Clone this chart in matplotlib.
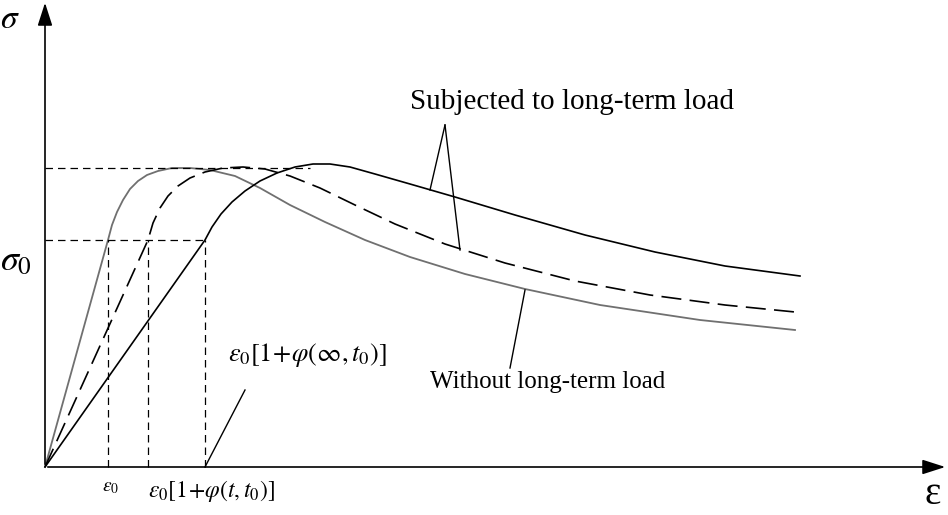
import matplotlib.pyplot as plt

# schematic coordinates (pixel-like units, origin at the axes corner)
x_without = [0, 63, 67, 72, 78, 85, 93, 102, 113, 127, 145, 165, 190, 215, 245, 280, 320,
             365, 420, 480, 555, 655, 750]
y_without = [0, 227, 242, 255, 267, 278, 286, 292, 296, 299, 299, 297, 291, 279, 262, 245,
             227, 210, 193, 178, 162, 147, 137]
x_mid = [0, 103, 108, 115, 123, 133, 145, 160, 178, 198, 220, 245, 275, 310, 350, 400, 460,
         530, 605, 680, 750]
y_mid = [0, 227, 244, 259, 271, 281, 289, 295, 299, 300, 298, 291, 279, 262, 243, 223, 204,
         186, 172, 162, 155]
x_long = [0, 160, 167, 176, 187, 200, 215, 232, 250, 268, 285, 305, 330, 365, 410, 470, 540,
          610, 680, 755]
y_long = [0, 227, 240, 253, 265, 276, 286, 294, 300, 303, 303, 300, 293, 283, 270, 252, 232,
          215, 201, 191]

sig_peak, sig0 = 299, 227
eps = [63, 103, 160]

fig = plt.figure(figsize=(9.48, 5.15), dpi=100)
ax = fig.add_axes([0, 0, 1, 1])
ax.set_xlim(-45, 903)
ax.set_ylim(-48, 467)
ax.axis('off')
plt.rcParams['font.family'] = ['Liberation Serif', 'DejaVu Serif']

ax.plot(x_without, y_without, color='#707070', lw=1.3)
ax.plot(x_mid, y_mid, color='k', lw=1.2, dashes=(12, 5))
ax.plot(x_long, y_long, color='k', lw=1.2)

# axes arrows
ax.annotate('', xy=(903, 0), xytext=(0, 0),
            arrowprops=dict(arrowstyle='-|>,head_length=1.4,head_width=0.45', color='k', lw=1.2))
ax.annotate('', xy=(0, 467), xytext=(0, 0),
            arrowprops=dict(arrowstyle='-|>,head_length=1.4,head_width=0.45', color='k', lw=1.2))

dash = dict(color='k', lw=0.9, dashes=(6, 4))
ax.plot([0, 265], [sig_peak, sig_peak], **dash)
ax.plot([0, eps[2]], [sig0, sig0], **dash)
for e in eps:
    ax.plot([e, e], [0, sig0], **dash)

# leader lines
ax.plot([385, 400], [277, 342], color='k', lw=1)
ax.plot([415, 400], [217, 342], color='k', lw=1)
ax.plot([480, 465], [177, 99], color='k', lw=1)
ax.plot([160, 200], [0, 77], color='k', lw=1)

ax.text(365, 365, 'Subjected to long-term load', fontsize=21, va='center')
ax.text(385, 85, 'Without long-term load', fontsize=18, va='center')
ax.text(183, 112, r'$\varepsilon_0[1\!+\!\varphi(\infty,t_0)]$', fontsize=19, va='center',
        math_fontfamily='stix')
ax.text(57, -21, r'$\varepsilon_0$', fontsize=14, va='center', math_fontfamily='stix')
ax.text(103, -24, r'$\varepsilon_0[1\!+\!\varphi(t,t_0)]$', fontsize=17, va='center',
        math_fontfamily='stix')
ax.text(-45, 447, r'$\sigma$', fontsize=24, va='center', math_fontfamily='stix')
ax.text(-45, 205, r'$\sigma_0$', fontsize=26, va='center', math_fontfamily='stix')
ax.text(880, -28, 'ε', fontsize=28, va='center')

fig.savefig('out.png', dpi=100)
